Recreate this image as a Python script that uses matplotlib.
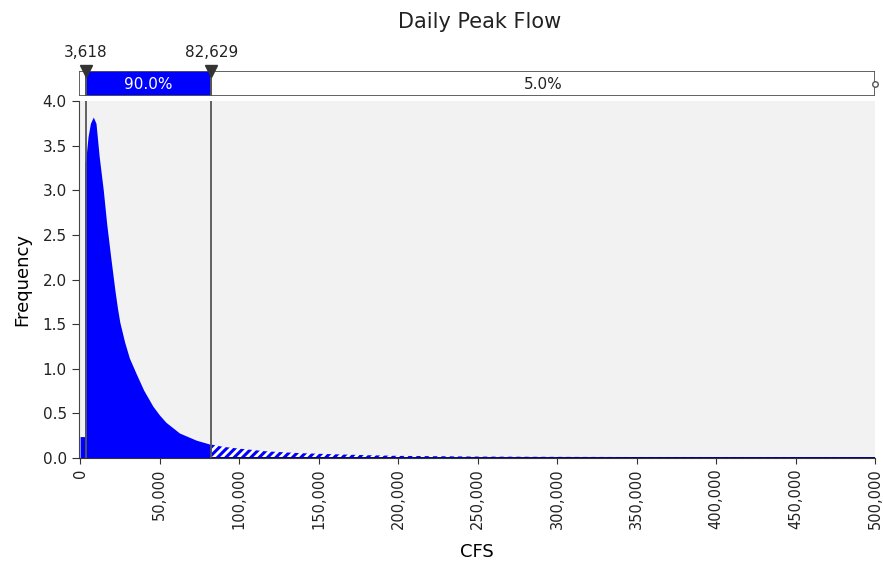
import matplotlib.pyplot as plt
from matplotlib.ticker import FuncFormatter

# values (CFS, frequency)
left_x = [0, 2900, 2900, 3618]
left_y = [0.24, 0.24, 3.30, 3.35]

main_x = [3618, 5000, 6500, 8300, 10000, 12000, 14600, 16700, 19200, 21900,
          23500, 25000, 28000, 31000, 35400, 40000, 45800, 50000, 54000, 62500, 73000, 82629]
main_y = [3.35, 3.60, 3.75, 3.82, 3.75, 3.38, 3.00, 2.63, 2.26, 1.88,
          1.68, 1.52, 1.30, 1.12, 0.94, 0.76, 0.58, 0.48, 0.40, 0.28, 0.20, 0.15]

tail_x = [82629, 90000, 100000, 117000, 137500, 158000, 179000, 200000,
          250000, 300000, 350000, 400000, 450000, 500000]
tail_y = [0.15, 0.125, 0.105, 0.075, 0.055, 0.043, 0.032, 0.024,
          0.016, 0.013, 0.011, 0.009, 0.008, 0.007]

lo, hi = 3618, 82629
pct_mid, pct_right = '90.0%', '5.0%'
xticks = [0, 50000, 100000, 150000, 200000, 250000, 300000, 350000, 400000, 450000, 500000]
yticks = [0.0, 0.5, 1.0, 1.5, 2.0, 2.5, 3.0, 3.5, 4.0]

blue = '#0000ff'
grey = '#555555'
plt.rcParams['hatch.linewidth'] = 2.2

fig = plt.figure(figsize=(8.83, 5.74), dpi=100)
L, R = 78.5 / 883, 875 / 883
ax = fig.add_axes([L, 1 - 458 / 574, R - L, 357 / 574])
bx = fig.add_axes([L, 1 - 96 / 574, R - L, 25 / 574], sharex=ax)

ax.set_facecolor('#f2f2f2')
ax.fill_between(left_x, left_y, color=blue, linewidth=0)
ax.fill_between(main_x, main_y, color=blue, linewidth=0)
ax.fill_between(tail_x, tail_y, facecolor='white', edgecolor=blue, hatch='////', linewidth=0)
ax.plot(tail_x, [0] * len(tail_x), color='#00008b', lw=1.4)

ax.set_xlim(-1000, 500000)
ax.set_ylim(0, 4.0)
ax.set_xticks(xticks)
ax.set_yticks(yticks)
ax.xaxis.set_major_formatter(FuncFormatter(lambda v, p: f'{int(v):,}'))
ax.yaxis.set_major_formatter(FuncFormatter(lambda v, p: f'{v:.1f}'))
ax.tick_params(axis='x', labelrotation=90, labelsize=10.5, length=4, color='#333333', labelcolor='#222222')
ax.tick_params(axis='y', labelsize=11, length=5, color='#333333', labelcolor='#222222')
for s in ['top', 'right']:
    ax.spines[s].set_visible(False)
ax.spines['left'].set_color('#444444')
ax.spines['bottom'].set_color('#333333')
ax.set_xlabel('CFS', fontsize=13, labelpad=10)
ax.set_ylabel('Frequency', fontsize=13, labelpad=8)

for v in (lo, hi):
    ax.axvline(v, color=grey, lw=1.3)
    bx.axvline(v, color=grey, lw=1.3)

# delimiter band on top
bx.set_ylim(0, 1)
bx.axis('off')
bx.axvspan(-1000, lo, ymin=0, ymax=1, facecolor='white', edgecolor=grey, lw=1.3)
bx.axvspan(lo, hi, ymin=0, ymax=1, facecolor=blue, edgecolor=grey, lw=1.3)
bx.axvspan(hi, 500000, ymin=0, ymax=1, facecolor='white', edgecolor=grey, lw=1.3)
bx.text((lo + hi) / 2, 0.45, pct_mid, color='white', ha='center', va='center', fontsize=11)
bx.text((hi + 500000) / 2, 0.45, pct_right, color='#222222', ha='center', va='center', fontsize=11)
bx.plot([500000], [0.5], marker='o', ms=4, mfc='white', mec=grey, clip_on=False)
for v in (lo, hi):
    bx.plot([v], [1.0], marker='v', ms=9, color='#333333', clip_on=False)
    bx.text(v, 1.75, f'{v:,}', ha='center', va='center', fontsize=11, color='#222222')

fig.text(0.543, 1 - 22 / 574, 'Daily Peak Flow', ha='center', va='center', fontsize=15, color='#222222')

fig.savefig('out.png', dpi=100)
